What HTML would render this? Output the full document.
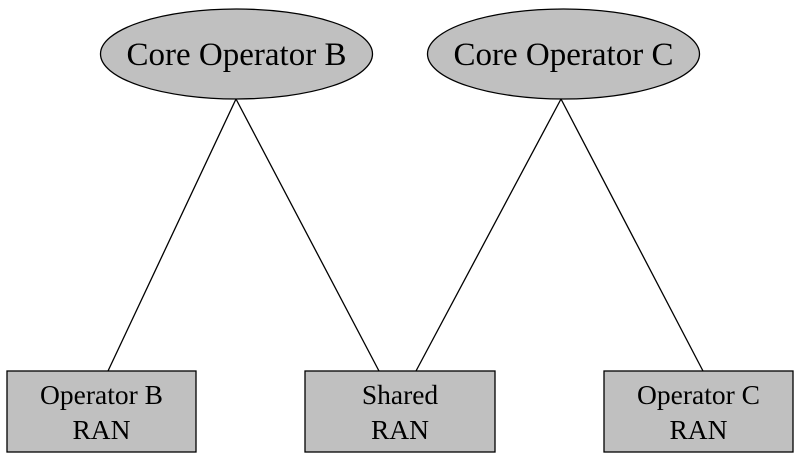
<!DOCTYPE html>
<html><head><style>body{margin:0;background:#fff}</style></head><body>
<svg width="800" height="462" xmlns="http://www.w3.org/2000/svg" font-family="Liberation Serif, serif">
<rect width="800" height="462" fill="#fff"/>
<g stroke="#000" stroke-width="1.3" fill="none">
<line x1="236" y1="99" x2="108" y2="371"/>
<line x1="236" y1="99" x2="379" y2="371"/>
<line x1="561" y1="99" x2="416" y2="371"/>
<line x1="561" y1="99" x2="703" y2="371"/>
</g>
<g stroke="#000" stroke-width="1.3" fill="#c0c0c0">
<ellipse cx="236.5" cy="54" rx="136" ry="45"/>
<ellipse cx="563.5" cy="54" rx="136" ry="45"/>
<rect x="7" y="371" width="189" height="81"/>
<rect x="305" y="371" width="190" height="81"/>
<rect x="604" y="371" width="189" height="81"/>
</g>
<g fill="#000" text-anchor="middle">
<text x="236.5" y="65" font-size="33">Core Operator B</text>
<text x="563.5" y="65" font-size="33">Core Operator C</text>
<g font-size="27.5">
<text x="101.5" y="404">Operator B</text><text x="101.5" y="439">RAN</text>
<text x="400" y="404">Shared</text><text x="400" y="439">RAN</text>
<text x="698.5" y="404">Operator C</text><text x="698.5" y="439">RAN</text>
</g></g>
</svg>
</body></html>
